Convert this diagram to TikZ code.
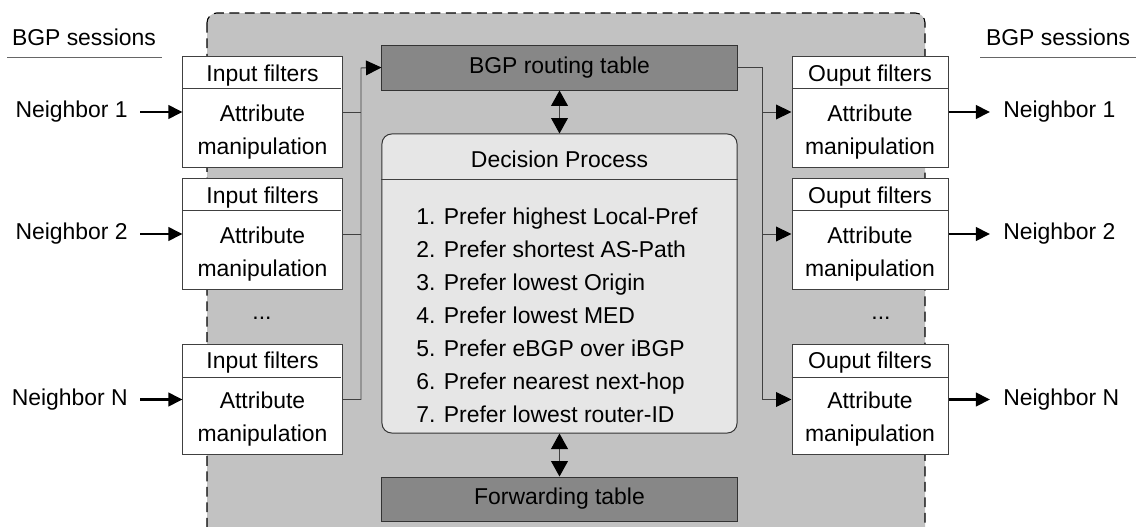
\documentclass[tikz,border=0pt]{standalone}
\usepackage{fontspec}
\setmainfont{Liberation Sans}
\usetikzlibrary{arrows.meta}
\definecolor{routergray}{HTML}{C2C2C2}
\definecolor{tablegray}{HTML}{878787}
\definecolor{decisiongray}{HTML}{E6E6E6}

\begin{document}
\begin{tikzpicture}[x=0.025cm, y=-0.025cm,
  every node/.style={font=\fontsize{16.3}{23.5}\selectfont, text=black},
  filterbox/.style={draw=black!75, fill=white, line width=0.7pt, minimum height=2.75cm, inner sep=0pt},
  tablebox/.style={draw=black!80, fill=tablegray, line width=0.7pt, minimum width=8.875cm, minimum height=1.125cm, inner sep=0pt},
  line/.style={draw=black!75, line width=0.7pt},
  link/.style={line, -{Triangle[length=11pt,width=10.5pt,black]}},
  twoway/.style={line, {Triangle[length=11pt,width=12pt,black]}-{Triangle[length=11pt,width=12pt,black]}},
  session/.style={draw=black, line width=2pt, -{Triangle[length=10pt,width=9.5pt]}},
  rule/.style={draw=black!60, line width=0.7pt}]
\useasboundingbox (0,0) rectangle (1136,526);

% Router
\draw[fill=routergray, draw=black, dash pattern=on 7pt off 4pt, line width=0.8pt, rounded corners=7pt] (207,13) rectangle (925,560);

% Sessions headers
\node (sessL) at (84,37) {BGP sessions};
\draw[rule] (7,57) -- (162,57);
\node (sessR) at (1058,37) {BGP sessions};
\draw[rule] (980,57) -- (1136,57);

% Input filters
\node[filterbox, minimum width=3.975cm] (in1) at (262.5,112) {};
\node at (262.5,76) {Input filters};
\node[align=center] at (262.5,132) {Attribute\\manipulation};
\draw[line] (in1.north west) ++(0,32) -- ++(159,0);

\node[filterbox, minimum width=3.975cm] (in2) at (262.5,234) {};
\node at (262.5,198) {Input filters};
\node[align=center] at (262.5,254) {Attribute\\manipulation};
\draw[line] (in2.north west) ++(0,32) -- ++(159,0);

\node (dotsL) at (262,318) {...};

\node[filterbox, minimum width=3.975cm] (in3) at (262.5,399.5) {};
\node at (262.5,363) {Input filters};
\node[align=center] at (262.5,419) {Attribute\\manipulation};
\draw[line] (in3.north west) ++(0,33) -- ++(159,0);

% Neighbors in
\node[anchor=east, inner sep=0.3cm] (nl1) at (140,112) {Neighbor 1};
\node[anchor=east, inner sep=0.3cm] (nl2) at (140,234) {Neighbor 2};
\node[anchor=east, inner sep=0.3cm] (nl3) at (140,399.5) {Neighbor N};
\draw[session] (nl1.east) -- (in1.west);
\draw[session] (nl2.east) -- (in2.west);
\draw[session] (nl3.east) -- (in3.west);

% Tables
\node[tablebox] (rt) at (559.5,67.5) {BGP routing table};
\node[tablebox, minimum height=1.1cm] (ft) at (559.5,499) {Forwarding table};

% Decision process
\node[draw=black!80, fill=decisiongray, line width=0.7pt, rounded corners=7pt, minimum width=8.875cm, minimum height=7.475cm, inner sep=0pt] (dp) at (559.5,283.5) {};
\node (dptitle) at (559.5,159) {Decision Process};
\draw[line] (dp.west |- 0,179) -- (dp.east |- 0,179);
\node[anchor=west, align=left, inner sep=0pt] (dplist) at (416,315) {1. Prefer highest Local-Pref\\2. Prefer shortest AS-Path\\3. Prefer lowest Origin\\4. Prefer lowest MED\\5. Prefer eBGP over iBGP\\6. Prefer nearest next-hop\\7. Prefer lowest router-ID};

\draw[twoway] (rt.south) -- (dp.north);
\draw[twoway] (dp.south) -- (ft.north);

% Bus into routing table
\coordinate (busL) at (361,68);
\draw[link] (in3.east) -| (busL) -- (rt.west);
\draw[line] (in1.east) -- (in1.east -| busL);
\draw[line] (in2.east) -- (in2.east -| busL);

% Output filters
\node[filterbox, minimum width=3.9cm] (out1) at (870,112) {};
\node at (870,76) {Ouput filters};
\node[align=center] at (870,132) {Attribute\\manipulation};
\draw[line] (out1.north west) ++(0,32) -- ++(156,0);

\node[filterbox, minimum width=3.9cm] (out2) at (870,234) {};
\node at (870,198) {Ouput filters};
\node[align=center] at (870,254) {Attribute\\manipulation};
\draw[line] (out2.north west) ++(0,32) -- ++(156,0);

\node (dotsR) at (881,318) {...};

\node[filterbox, minimum width=3.9cm] (out3) at (870,399.5) {};
\node at (870,363) {Ouput filters};
\node[align=center] at (870,419) {Attribute\\manipulation};
\draw[line] (out3.north west) ++(0,33) -- ++(156,0);

% Bus out of routing table
\coordinate (busR) at (762,68);
\draw[link] (rt.east) -| (busR |- out3.west) -- (out3.west);
\draw[link] (busR |- out1.west) -- (out1.west);
\draw[link] (busR |- out2.west) -- (out2.west);

% Neighbors out
\node[anchor=west, inner sep=0.325cm] (nr1) at (990,112) {Neighbor 1};
\node[anchor=west, inner sep=0.325cm] (nr2) at (990,234) {Neighbor 2};
\node[anchor=west, inner sep=0.325cm] (nr3) at (990,399.5) {Neighbor N};
\draw[session] (out1.east) -- (nr1.west);
\draw[session] (out2.east) -- (nr2.west);
\draw[session] (out3.east) -- (nr3.west);
\end{tikzpicture}
\end{document}
